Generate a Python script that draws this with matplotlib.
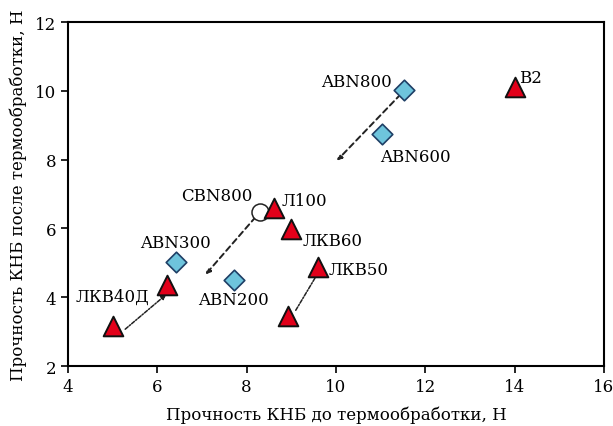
import matplotlib
matplotlib.use("Agg")
import matplotlib.pyplot as plt

plt.rcParams['font.family'] = ['DejaVu Serif']

# Strength before / after heat treatment, N
tri_labels = ["B2", "Л100", "ЛКВ60", "ЛКВ50", "ЛКВ40Д", "", ""]
tri_x = [14.0, 8.62, 9.0, 9.6, 6.22, 5.0, 8.93]
tri_y = [10.1, 6.6, 5.98, 4.88, 4.35, 3.15, 3.45]

dia_labels = ["ABN800", "ABN600", "ABN300", "ABN200"]
dia_x = [11.52, 11.03, 6.42, 7.72]
dia_y = [10.02, 8.74, 5.02, 4.5]

circ_labels = ["CBN800"]
circ_x = [8.3]
circ_y = [6.48]

# Trend arrows: (start, end)
dashed_arrows = [((11.45, 9.9), (10.02, 7.97)), ((8.2, 6.33), (7.08, 4.66))]
dotted_arrows = [((5.28, 3.07), (6.2, 4.08)), ((9.1, 3.62), (9.62, 4.75))]

# Label anchors: (text, x, y, ha)
label_pos = [
    ("ABN800", 11.26, 10.27, "right"),
    ("ABN600", 11.0, 8.1, "left"),
    ("B2", 14.1, 10.4, "left"),
    ("CBN800", 8.13, 6.95, "right"),
    ("Л100", 8.78, 6.82, "left"),
    ("ЛКВ60", 9.25, 5.65, "left"),
    ("ЛКВ50", 9.83, 4.8, "left"),
    ("ABN300", 7.2, 5.6, "right"),
    ("ABN200", 7.7, 3.92, "center"),
    ("ЛКВ40Д", 5.83, 4.04, "right"),
]

fig = plt.figure(figsize=(6.13, 4.27), dpi=100)
ax = fig.add_axes([0.111, 0.1405, 0.874, 0.8055])

for (x0, y0), (x1, y1) in dashed_arrows:
    ax.annotate("", xy=(x1, y1), xytext=(x0, y0),
                arrowprops=dict(arrowstyle="-|>", color="#222222", lw=1.4,
                                linestyle=(0, (3, 2)), mutation_scale=7,
                                shrinkA=0, shrinkB=0), zorder=2)
for (x0, y0), (x1, y1) in dotted_arrows:
    ax.annotate("", xy=(x1, y1), xytext=(x0, y0),
                arrowprops=dict(arrowstyle="-|>", color="#222222", lw=1.1,
                                linestyle=(0, (2.5, 1, 1, 1)), mutation_scale=7,
                                shrinkA=0, shrinkB=0), zorder=2)

ax.scatter(dia_x, dia_y, marker="D", s=110, facecolor="#6ec4dc",
           edgecolor="#1f3f66", linewidth=1.2, zorder=3)
ax.scatter(tri_x, tri_y, marker="^", s=200, facecolor="#e2001a",
           edgecolor="#111111", linewidth=1.4, zorder=4)
ax.scatter(circ_x, circ_y, marker="o", s=150, facecolor="white",
           edgecolor="#222222", linewidth=1.1, zorder=3)

for text, x, y, ha in label_pos:
    ax.text(x, y, text, ha=ha, va="center", fontsize=12, zorder=5)

ax.set_xlim(4, 16)
ax.set_ylim(2, 12)
ax.set_xticks([4, 6, 8, 10, 12, 14, 16])
ax.set_yticks([2, 4, 6, 8, 10, 12])
ax.tick_params(direction="out", length=5, width=1.2, labelsize=12,
               top=False, right=False)
for sp in ax.spines.values():
    sp.set_linewidth(1.5)

ax.set_xlabel("Прочность КНБ до термообработки, Н", fontsize=12, labelpad=8)
ax.set_ylabel("Прочность КНБ после термообработки, Н", fontsize=12, labelpad=6)

fig.savefig("out.png", dpi=100)
